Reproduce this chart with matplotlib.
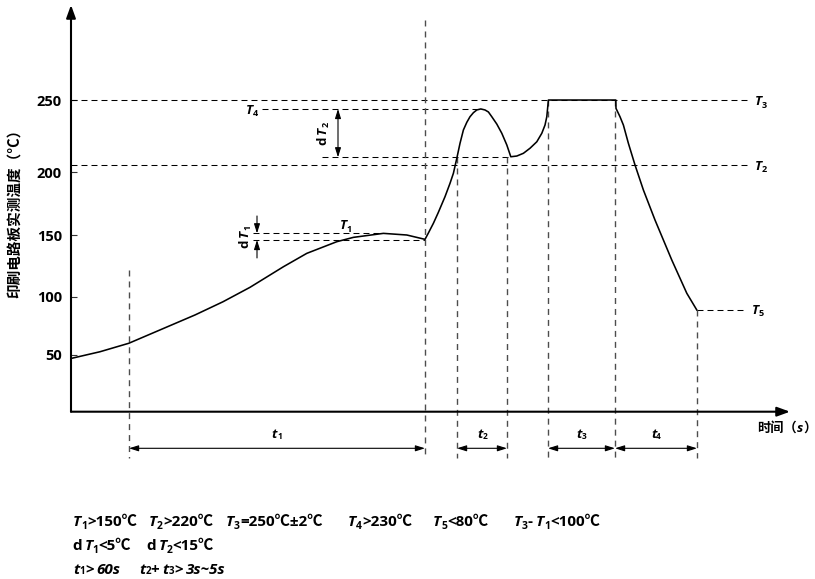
import numpy as np
import matplotlib
matplotlib.use("Agg")
import matplotlib.pyplot as plt
from matplotlib.transforms import IdentityTransform, blended_transform_factory

plt.rcParams['lines.scale_dashes'] = False
FONT = ['Open Sans', 'Noto Sans CJK SC', 'DejaVu Sans']
CJK = ['Noto Sans CJK SC', 'DejaVu Sans']
plt.rcParams['font.family'] = FONT
plt.rcParams['font.weight'] = 'bold'

# ---------------- data ----------------
time_s = [0, 14.5, 28.9, 44.5, 62, 76, 89.5, 106.2, 117.9, 132.9, 141.2, 156.2, 167.9, 177,
          178.6, 181.2, 183.6, 187, 189.5, 191.2, 192.9, 194.5, 196.2, 197.9, 199.5, 201.2,
          202.9, 204.9, 207, 208.7, 210.4, 212.9, 215.4, 217.9, 219.9, 222.9, 226.2, 229.5,
          232.9, 235.4, 237, 237.9, 238.7, 272.4, 272.5, 274.5, 276.2, 278.7, 282, 286.2,
          292, 300.4, 307.9, 312.9]
temp_c = [47, 52.8, 60.1, 71.6, 84.5, 95.9, 107.8, 124.4, 135.2, 144.6, 148.1, 151.3, 150, 146.5,
          151.3, 159.3, 167.7, 180.4, 191.0, 199, 209.5, 219.9, 229.2, 234.5, 238.4, 241.2,
          243.1, 243.8, 243.1, 241.7, 238.4, 233.3, 226.9, 218.8, 210.6, 211.1, 213.0, 216.5,
          221.0, 226.9, 232.6, 238.4, 250, 250, 244.2, 238.4, 232.6, 219.9, 204.9, 185.7,
          161.9, 129.8, 103, 88.8]
ytick_values = [50, 100, 150, 200, 250]

T1_hi, T1_lo = 151.3, 146.0
T2_line = 205.0
T3_line = 250.0
T4_line = 243.8
dT2_lo = 210.2
T5_line = 88.8

t_marks = [29, 177, 193, 218, 238.5, 272, 313]
t_mark_tops = [121.8, 305.6, 210.2, 210.2, 250, 250, 88.8]
t_spans = [(29, 177), (193, 218), (238.5, 272), (272, 313)]
t_names = ['1', '2', '3', '4']

# ---------------- figure ----------------
W, H = 815, 579
fig = plt.figure(figsize=(W / 100, H / 100), dpi=100)
renderer = fig.canvas.get_renderer()
ax = fig.add_axes([71 / W, (H - 411.7) / H, (790 - 71) / W, (411.7 - 5) / H])

# schematic (non-linear) temperature axis
SC_T = np.array([-60, 50, 100, 150, 200, 250, 340], float)
SC_P = np.array([482.6, 355, 297, 235, 172, 100, -29.6], float)

def fwd(v):
    return -np.interp(np.asarray(v, float), SC_T, SC_P)

def inv(v):
    return np.interp(-np.asarray(v, float), SC_P[::-1], SC_T[::-1])

ax.set_yscale('function', functions=(fwd, inv))
ax.set_xlim(0, 359.5)
ax.set_ylim(1.1, 316)
for s in ax.spines.values():
    s.set_visible(False)
ax.set_yticks(ytick_values)
ax.set_yticklabels([str(v) for v in ytick_values], fontsize=10.5, fontweight='bold')
ax.tick_params(axis='y', direction='in', length=4.5, width=0.8, color='#333', pad=6.5)
ax.set_xticks([])

# axis arrows
arw = dict(arrowstyle='-|>,head_length=0.55,head_width=0.2', mutation_scale=14,
           lw=1.5, color='black', shrinkA=0, shrinkB=0)
ax.annotate('', xy=(0, 1), xytext=(0, 0), xycoords='axes fraction', arrowprops=arw,
            annotation_clip=False)
ax.annotate('', xy=(1, 0), xytext=(0, 0), xycoords='axes fraction', arrowprops=arw,
            annotation_clip=False)

hd = dict(color='black', lw=0.75, linestyle=(0, (4.3, 2.9)), clip_on=False)
vd = dict(color='#4d4d4d', lw=1.0, linestyle=(0, (4.3, 3.6)), clip_on=False)

# horizontal reference lines
ax.plot([0, 338.5], [T3_line, T3_line], **hd)
ax.plot([0, 338.5], [T2_line, T2_line], **hd)
ax.plot([95.5, 204.9], [T4_line, T4_line], **hd)
ax.plot([125.5, 219.5], [dT2_lo, dT2_lo], **hd)
ax.plot([91, 156], [T1_hi, T1_hi], **hd)
ax.plot([91, 177], [T1_lo, T1_lo], **hd)
ax.plot([313, 336], [T5_line, T5_line], **hd)

# vertical phase lines
y_bot = ax.transData.inverted().transform(ax.transAxes.transform((0, -0.113)))[1]
for t, top in zip(t_marks, t_mark_tops):
    ax.plot([t, t], [top, y_bot], **vd)

# curve
ax.plot(time_s, temp_c, color='black', lw=1.15, solid_joinstyle='round', zorder=5)

# t spans
blend = blended_transform_factory(ax.transData, ax.transAxes)
sp = dict(arrowstyle='<|-|>,head_length=0.7,head_width=0.22', mutation_scale=8,
          lw=0.8, color='black', shrinkA=0, shrinkB=0)
for a, b in t_spans:
    ax.annotate('', xy=(b, -0.09), xytext=(a, -0.09), xycoords=blend, textcoords=blend,
                arrowprops=sp, annotation_clip=False)

# dT arrows
ax.annotate('', xy=(133.5, dT2_lo), xytext=(133.5, T4_line), arrowprops=sp,
            annotation_clip=False)
sp1 = dict(sp, arrowstyle='-|>,head_length=0.7,head_width=0.22')
ax.annotate('', xy=(93, T1_hi), xytext=(93, 165.1), arrowprops=sp1, annotation_clip=False)
ax.annotate('', xy=(93, T1_lo), xytext=(93, 131.5), arrowprops=sp1, annotation_clip=False)


# ---------------- rich text helper ----------------
def runs(x, y, parts, rot=0, align='left', base=9.0):
    items = []
    pos = 0.0
    for p in parts:
        s = p[0]
        o = p[1] if len(p) > 1 else {}
        t = fig.text(0, 0, s, transform=IdentityTransform(), fontsize=o.get('size', base),
                     fontstyle='italic' if o.get('it') else 'normal', fontweight='bold',
                     family=o.get('family', FONT), rotation=rot, rotation_mode='anchor',
                     ha='left', va='baseline', color='black')
        ext = t.get_window_extent(renderer)
        adv = ext.width if rot == 0 else ext.height
        items.append((t, pos, o.get('dy', 0.0)))
        pos += adv + o.get('gap', 0.0)
    shift = {'left': 0.0, 'center': pos / 2, 'right': pos}[align]
    for t, p0, dy in items:
        a = p0 - shift
        if rot == 0:
            t.set_position((x + a, y - dy))
        else:
            t.set_position((x + dy, y + a))


def disp(t, T):
    return ax.transData.transform((t, T))


SUB = dict(size=6.5, dy=2.5)
TI = dict(it=True, size=9.5)


def Tlab(n, gap=0.0):
    return [('T', TI), (n, dict(SUB, gap=gap))]


# labels on the chart
x, y = disp(95.5, T4_line); runs(x - 4, y - 5, Tlab('4'), align='right')
x, y = disp(137.5, T1_hi); runs(x, y + 4, Tlab('1'), align='center')
x, y = disp(338.5, T3_line); runs(x + 7, y - 5, Tlab('3'))
x, y = disp(338.5, T2_line); runs(x + 7, y - 5, Tlab('2'))
x, y = disp(336, T5_line); runs(x + 9, y - 4, Tlab('5'))

x, y = disp(133.5, (T4_line + dT2_lo) / 2)
runs(x - 12, y, [('d', dict(size=9.5, gap=2.5)), ('T', TI), ('2', dict(size=6.5, dy=2.5))],
     rot=90, align='center')
x, y = disp(93, (T1_hi + T1_lo) / 2)
runs(x - 9, y, [('d', dict(size=9.5, gap=2.5)), ('T', TI), ('1', dict(size=6.5, dy=2.5))],
     rot=90, align='center')

y_t = H - 438.5
for (a, b), n in zip(t_spans, t_names):
    x, _ = disp((a + b) / 2, 100)
    runs(x, y_t, [('t', dict(it=True, size=9.5)), (n, dict(size=6.0, dy=0.5))], align='center')

# axis titles
fig.text(15, H - 210, '印刷电路板实测温度（°C）', transform=IdentityTransform(), rotation=90,
         ha='center', va='center', fontsize=10.5, fontweight='bold', family=CJK)
runs(757, H - 432, [('时间（', dict(family=CJK, size=9.5)), ('s', dict(it=True, size=9.5)),
                    ('）', dict(family=CJK, size=9.5))])

# ---------------- notes below ----------------
B = 11
NT = dict(it=True, size=B)
NS = dict(size=7.5, dy=3)
y1, y2, y3 = H - 526, H - 550, H - 574

runs(73, y1, [('T', NT), ('1', NS), ('>150℃', {})], base=B)
runs(149, y1, [('T', NT), ('2', NS), ('>220℃', {})], base=B)
runs(226, y1, [('T', NT), ('3', NS), ('=250℃±2℃', {})], base=B)
runs(348, y1, [('T', NT), ('4', NS), ('>230℃', {})], base=B)
runs(433, y1, [('T', NT), ('5', NS), ('<80℃', {})], base=B)
runs(514, y1, [('T', NT), ('3', NS), ('-', dict(gap=3)), ('T', NT), ('1', NS), ('<100℃', {})], base=B)

runs(72, y2, [('d', dict(gap=3)), ('T', NT), ('1', NS), ('<5℃', {})], base=B)
runs(146, y2, [('d', dict(gap=3)), ('T', NT), ('2', NS), ('<15℃', {})], base=B)

TS = dict(size=7.0, dy=0.5)
runs(73, y3, [('t', NT), ('1', TS), ('>', dict(gap=3)), ('60s', NT)], base=B)
runs(139, y3, [('t', NT), ('2', TS), ('+', dict(gap=3)), ('t', NT), ('3', TS),
               ('>', dict(gap=3)), ('3s~5s', NT)], base=B)

fig.savefig('out.png', dpi=100)
